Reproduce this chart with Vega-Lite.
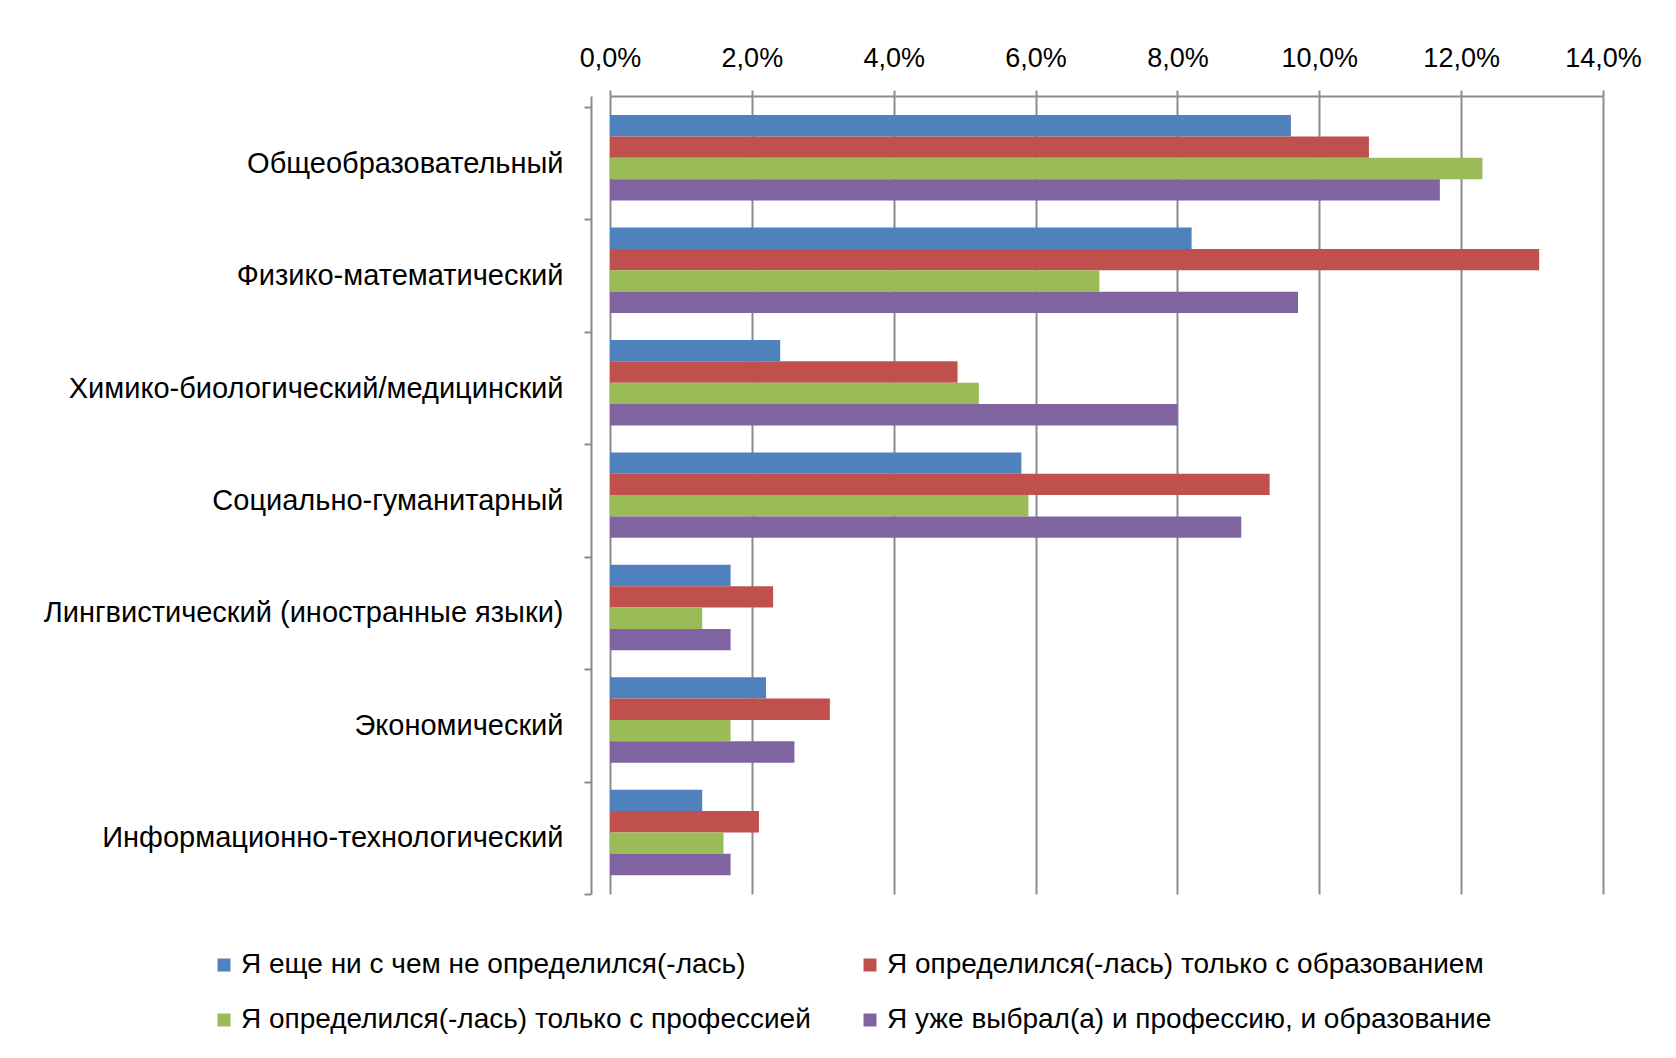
{
  "$schema": "https://vega.github.io/schema/vega-lite/v6.json",
  "autosize": {"type": "none"},
  "padding": {"left": 610, "top": 96, "right": 73, "bottom": 164},
  "width": 993,
  "height": 798,
  "background": "white",
  "config": {
    "view": {"stroke": null},
    "font": "Liberation Sans",
    "text": {"font": "Liberation Sans"}
  },
  "data": {
    "values": [
      {"cat": "Общеобразовательный", "s": "Я еще ни с чем не определился(-лась)", "v": 0.096},
      {"cat": "Общеобразовательный", "s": "Я определился(-лась) только с образованием", "v": 0.107},
      {"cat": "Общеобразовательный", "s": "Я определился(-лась) только с профессией", "v": 0.123},
      {"cat": "Общеобразовательный", "s": "Я уже выбрал(а) и профессию, и образование", "v": 0.117},
      {"cat": "Физико-математический", "s": "Я еще ни с чем не определился(-лась)", "v": 0.082},
      {"cat": "Физико-математический", "s": "Я определился(-лась) только с образованием", "v": 0.131},
      {"cat": "Физико-математический", "s": "Я определился(-лась) только с профессией", "v": 0.069},
      {"cat": "Физико-математический", "s": "Я уже выбрал(а) и профессию, и образование", "v": 0.097},
      {"cat": "Химико-биологический/медицинский", "s": "Я еще ни с чем не определился(-лась)", "v": 0.024},
      {"cat": "Химико-биологический/медицинский", "s": "Я определился(-лась) только с образованием", "v": 0.049},
      {"cat": "Химико-биологический/медицинский", "s": "Я определился(-лась) только с профессией", "v": 0.052},
      {"cat": "Химико-биологический/медицинский", "s": "Я уже выбрал(а) и профессию, и образование", "v": 0.080},
      {"cat": "Социально-гуманитарный", "s": "Я еще ни с чем не определился(-лась)", "v": 0.058},
      {"cat": "Социально-гуманитарный", "s": "Я определился(-лась) только с образованием", "v": 0.093},
      {"cat": "Социально-гуманитарный", "s": "Я определился(-лась) только с профессией", "v": 0.059},
      {"cat": "Социально-гуманитарный", "s": "Я уже выбрал(а) и профессию, и образование", "v": 0.089},
      {"cat": "Лингвистический (иностранные языки)", "s": "Я еще ни с чем не определился(-лась)", "v": 0.017},
      {"cat": "Лингвистический (иностранные языки)", "s": "Я определился(-лась) только с образованием", "v": 0.023},
      {"cat": "Лингвистический (иностранные языки)", "s": "Я определился(-лась) только с профессией", "v": 0.013},
      {"cat": "Лингвистический (иностранные языки)", "s": "Я уже выбрал(а) и профессию, и образование", "v": 0.017},
      {"cat": "Экономический", "s": "Я еще ни с чем не определился(-лась)", "v": 0.022},
      {"cat": "Экономический", "s": "Я определился(-лась) только с образованием", "v": 0.031},
      {"cat": "Экономический", "s": "Я определился(-лась) только с профессией", "v": 0.017},
      {"cat": "Экономический", "s": "Я уже выбрал(а) и профессию, и образование", "v": 0.026},
      {"cat": "Информационно-технологический", "s": "Я еще ни с чем не определился(-лась)", "v": 0.013},
      {"cat": "Информационно-технологический", "s": "Я определился(-лась) только с образованием", "v": 0.021},
      {"cat": "Информационно-технологический", "s": "Я определился(-лась) только с профессией", "v": 0.016},
      {"cat": "Информационно-технологический", "s": "Я уже выбрал(а) и профессию, и образование", "v": 0.017}
    ]
  },
  "mark": {"type": "bar", "stroke": null},
  "encoding": {
    "y": {
      "field": "cat", "type": "nominal", "sort": null,
      "scale": {"paddingInner": 0, "paddingOuter": 0.049, "align": 1},
      "axis": {
        "title": null, "tickBand": "extent", "offset": 19,
        "domainColor": "#8c8c8c", "domainWidth": 2, "tickColor": "#8c8c8c", "tickWidth": 2, "tickSize": 7,
        "labelFont": "Liberation Sans", "labelFontSize": 29, "labelColor": "#000000", "labelPadding": 21, "labelLimit": 700
      }
    },
    "yOffset": {
      "field": "s", "type": "nominal", "sort": null,
      "scale": {"paddingInner": 0, "paddingOuter": 0.63, "align": 0.3}
    },
    "x": {
      "field": "v", "type": "quantitative",
      "scale": {"domain": [0, 0.14], "nice": false},
      "axis": {
        "orient": "top", "title": null, "values": [0, 0.02, 0.04, 0.06, 0.08, 0.1, 0.12, 0.14],
        "labelExpr": "replace(format(datum.value, '.1%'), '.', ',')",
        "labelFlush": false,
        "grid": true, "gridColor": "#8c8c8c", "gridWidth": 2,
        "domainColor": "#8c8c8c", "domainWidth": 2, "tickColor": "#8c8c8c", "tickWidth": 2, "tickSize": 6,
        "labelFont": "Liberation Sans", "labelFontSize": 27, "labelColor": "#000000", "labelPadding": 18
      }
    },
    "color": {
      "field": "s", "type": "nominal", "sort": null,
      "scale": {"range": ["#4F81BD", "#C0504D", "#9BBB59", "#8064A2"]},
      "legend": {
        "title": null, "orient": "none", "legendX": -400, "legendY": 855, "direction": "horizontal", "columns": 2,
        "columnPadding": 45, "rowPadding": 27, "symbolType": "square", "symbolSize": 169, "symbolStrokeWidth": 0,
        "labelFont": "Liberation Sans", "labelFontSize": 28, "labelColor": "#000000", "labelLimit": 800, "labelOffset": 3
      }
    }
  }
}
